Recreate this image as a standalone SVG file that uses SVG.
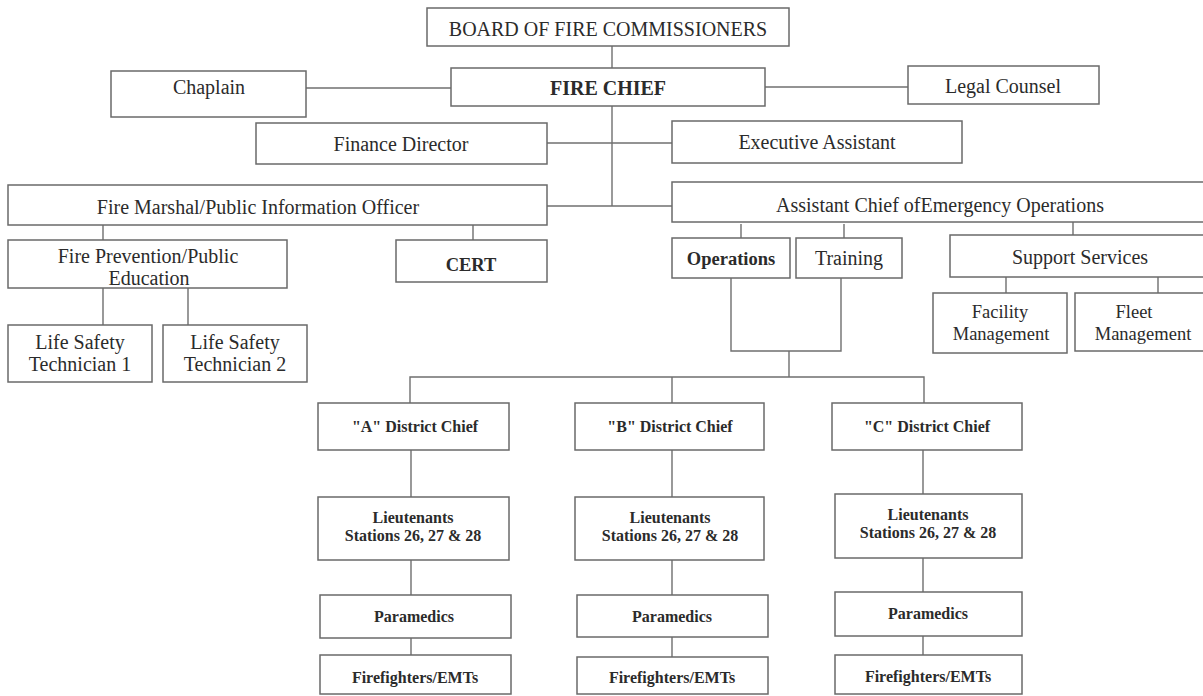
<svg xmlns="http://www.w3.org/2000/svg" width="1203" height="696" viewBox="0 0 1203 696">
<style>
.box{fill:#fff;stroke:#6a6a6a;stroke-width:1.5}
.ln{fill:none;stroke:#6f6f6f;stroke-width:1.4}
.t{font-family:"Liberation Serif","Times New Roman",serif;font-size:20px;fill:#2b2b2b;text-anchor:middle}
.tb{font-weight:bold}
.s{font-family:"Liberation Serif","Times New Roman",serif;font-size:16px;font-weight:bold;fill:#2b2b2b;text-anchor:middle}
.f{font-size:18.5px}
</style>
<rect width="1203" height="696" fill="#fff"/>
<g id="connectors" class="ln">
<path d="M612 46V68"/>
<path d="M306 88H451"/>
<path d="M765 87H908"/>
<path d="M612 106V206"/>
<path d="M547 143H672"/>
<path d="M547 206H672"/>
<path d="M103 225V240M473 225V240"/>
<path d="M103 288V325M188 288V325"/>
<path d="M741 224V238M844 224V238M1073 217V235"/>
<path d="M1006 277V293M1158 277V293"/>
<path d="M731 278V351H841V278M789 351V377"/>
<path d="M410 403V377H924V403M672 377V403"/>
<path d="M411 450V497M411 560V595M411 638V655"/>
<path d="M672 450V497M672 560V595M672 637V657"/>
<path d="M923 450V494M923 558V592M923 636V655"/>
</g>
<g id="board"><rect class="box" x="427" y="8" width="362" height="38"/><text class="t" x="608" y="36">BOARD OF FIRE COMMISSIONERS</text></g>
<g id="fire-chief"><rect class="box" x="451" y="68" width="314" height="38"/><text class="t tb" x="608" y="95">FIRE CHIEF</text></g>
<g id="chaplain"><rect class="box" x="111" y="71" width="195" height="46"/><text class="t" x="209" y="94">Chaplain</text></g>
<g id="legal-counsel"><rect class="box" x="908" y="66" width="191" height="38"/><text class="t" x="1003" y="93">Legal Counsel</text></g>
<g id="finance-director"><rect class="box" x="256" y="123" width="291" height="41"/><text class="t" x="401" y="151">Finance Director</text></g>
<g id="executive-assistant"><rect class="box" x="672" y="121" width="290" height="42"/><text class="t" x="817" y="149">Executive Assistant</text></g>
<g id="fire-marshal"><rect class="box" x="8" y="185" width="539" height="40"/><text class="t" x="258" y="214">Fire Marshal/Public Information Officer</text></g>
<g id="assistant-chief"><rect class="box" x="672" y="182" width="540" height="40"/><text class="t" x="940" y="212">Assistant Chief ofEmergency Operations</text></g>
<g id="fire-prevention"><rect class="box" x="8" y="240" width="279" height="48"/><text class="t" x="148" y="263">Fire Prevention/Public</text><text class="t" x="149" y="285">Education</text></g>
<g id="cert"><rect class="box" x="396" y="240" width="151" height="42"/><text class="t tb f" x="471" y="271">CERT</text></g>
<g id="life-safety-1"><rect class="box" x="8" y="325" width="144" height="57"/><text class="t" x="80" y="349" fill="#444">Life Safety</text><text class="t" x="80" y="371" fill="#444">Technician 1</text></g>
<g id="life-safety-2"><rect class="box" x="163" y="325" width="144" height="57"/><text class="t" x="235" y="349">Life Safety</text><text class="t" x="235" y="371">Technician 2</text></g>
<g id="operations"><rect class="box" x="672" y="238" width="118" height="40"/><text class="t tb f" x="731" y="265">Operations</text></g>
<g id="training"><rect class="box" x="796" y="238" width="106" height="40"/><text class="t" x="849" y="265">Training</text></g>
<g id="support-services"><rect class="box" x="950" y="235" width="262" height="42"/><text class="t" x="1080" y="264">Support Services</text></g>
<g id="facility-management"><rect class="box" x="933" y="293" width="134" height="60"/><text class="t f" x="1000" y="318">Facility</text><text class="t f" x="1001" y="340">Management</text></g>
<g id="fleet-management"><rect class="box" x="1075" y="293" width="140" height="58"/><text class="t f" x="1134" y="318" fill="#444">Fleet</text><text class="t f" x="1143" y="340">Management</text></g>
<g id="a-chief"><rect class="box" x="318" y="403" width="191" height="47"/><text class="s" x="415" y="432">"A" District Chief</text></g>
<g id="b-chief"><rect class="box" x="575" y="403" width="189" height="47"/><text class="s" x="670" y="432">"B" District Chief</text></g>
<g id="c-chief"><rect class="box" x="832" y="403" width="190" height="47"/><text class="s" x="927" y="432">"C" District Chief</text></g>
<g id="a-lieutenants"><rect class="box" x="318" y="497" width="191" height="63"/><text class="s" x="413" y="523">Lieutenants</text><text class="s" x="413" y="541">Stations 26, 27 &amp; 28</text></g>
<g id="b-lieutenants"><rect class="box" x="575" y="497" width="189" height="63"/><text class="s" x="670" y="523">Lieutenants</text><text class="s" x="670" y="541">Stations 26, 27 &amp; 28</text></g>
<g id="c-lieutenants"><rect class="box" x="835" y="494" width="187" height="64"/><text class="s" x="928" y="520">Lieutenants</text><text class="s" x="928" y="538">Stations 26, 27 &amp; 28</text></g>
<g id="a-paramedics"><rect class="box" x="320" y="595" width="191" height="43"/><text class="s" x="414" y="622">Paramedics</text></g>
<g id="b-paramedics"><rect class="box" x="577" y="595" width="191" height="42"/><text class="s" x="672" y="622">Paramedics</text></g>
<g id="c-paramedics"><rect class="box" x="835" y="592" width="187" height="44"/><text class="s" x="928" y="619">Paramedics</text></g>
<g id="a-firefighters"><rect class="box" x="320" y="655" width="191" height="39"/><text class="s" x="415" y="683">Firefighters/EMTs</text></g>
<g id="b-firefighters"><rect class="box" x="577" y="657" width="191" height="37"/><text class="s" x="672" y="683">Firefighters/EMTs</text></g>
<g id="c-firefighters"><rect class="box" x="835" y="655" width="187" height="39"/><text class="s" x="928" y="682">Firefighters/EMTs</text></g>
</svg>
